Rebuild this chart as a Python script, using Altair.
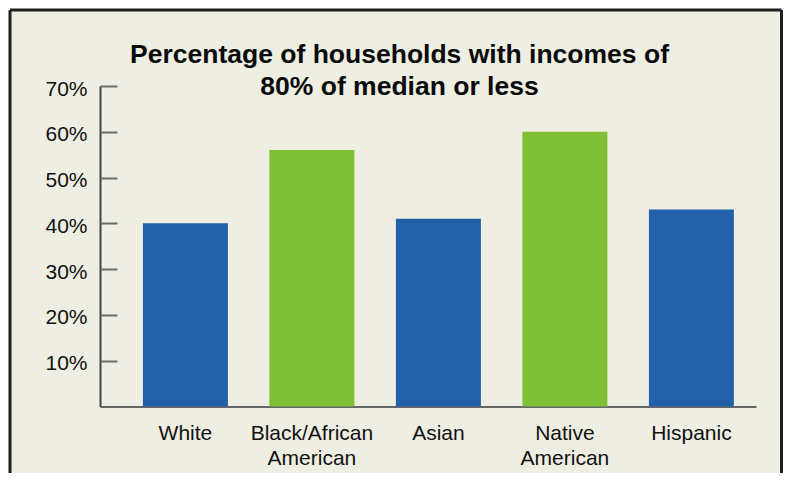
import altair as alt
import pandas as pd

# ---- data ----
categories = ["White", "Black/African American", "Asian", "Native American", "Hispanic"]
values = [40, 56, 41, 60, 43]
groups = ["blue", "green", "blue", "green", "blue"]
y_ticks = [10, 20, 30, 40, 50, 60, 70]
title_lines = ["Percentage of households with incomes of", "80% of median or less"]

df = pd.DataFrame({"category": categories, "value": values, "group": groups})
one = pd.DataFrame({"k": [0]})

# ---- layout (view = the framed panel) ----
W, H = 773, 463
X0, X1 = 90, 746        # plot area inside the panel
Y0, Y70 = 396.5, 76     # pixel rows of 0% and 70%
FONT = "Liberation Sans"
FRAME = "#1f1f1f"

x_enc = alt.X(
    "category:N", sort=categories, title=None,
    scale=alt.Scale(range=[X0, X1], paddingInner=0.328, paddingOuter=0.257, align=0.66),
    axis=alt.Axis(
        orient="bottom", offset=-(H - Y0), ticks=False, tickSize=0,
        domainColor="#666666", domainWidth=2,
        labelPadding=16, labelFontSize=21, labelFont=FONT, labelColor="#111111",
        labelLineHeight=25, labelAngle=0,
        labelExpr="lastindexof(datum.label, ' ') > 0 ? [substring(datum.label, 0, lastindexof(datum.label, ' ')), substring(datum.label, lastindexof(datum.label, ' ') + 1)] : datum.label",
    ),
)

y_scale = alt.Scale(domain=[0, 70], range=[Y0, Y70], nice=False, zero=True)

bars = alt.Chart(df).mark_bar().encode(
    x=x_enc,
    y=alt.Y("value:Q", scale=y_scale, title=None,
            axis=alt.Axis(orient="left", offset=-X0, values=y_ticks, ticks=False, tickSize=0,
                          grid=False, domainColor="#444444", domainWidth=2,
                          labelPadding=13, labelFontSize=21, labelFont=FONT, labelColor="#111111",
                          labelOffset=3, labelFlush=False,
                          labelExpr="datum.value + '%'")),
    color=alt.Color("group:N", legend=None,
                    scale=alt.Scale(domain=["blue", "green"], range=["#2360AA", "#7FBF36"])),
)

tick_layer = alt.Chart(df).mark_bar(opacity=0).encode(
    x=x_enc,
    y=alt.Y("value:Q", scale=y_scale, title=None,
            axis=alt.Axis(orient="right", offset=-(W - X0), values=y_ticks, labels=False,
                          domain=False, grid=False, ticks=True, tickSize=17,
                          tickColor="#6b6b6b", tickWidth=2)),
)

# panel frame (left, top, right sides; the bottom runs off the picture)
frame_left = alt.Chart(one).mark_rule(color=FRAME, strokeWidth=3).encode(
    x=alt.value(0), y=alt.value(0), y2=alt.value(H))
frame_top = alt.Chart(one).mark_rule(color=FRAME, strokeWidth=3).encode(
    x=alt.value(0), x2=alt.value(W - 1.5), y=alt.value(0))
frame_right = alt.Chart(one).mark_rule(color=FRAME, strokeWidth=3).encode(
    x=alt.value(W - 1.5), y=alt.value(0), y2=alt.value(H))

chart = alt.layer(bars, tick_layer, frame_left, frame_top, frame_right).resolve_axis(
    y="independent"
).properties(
    width=W, height=H,
    autosize=alt.AutoSizeParams(type="none"),
    padding={"left": 2, "top": 2, "right": 0, "bottom": 0},
    background="white",
    title=alt.TitleParams(
        text=title_lines, font=FONT, fontSize=26.5, fontWeight="bold", color="#0a0a0a",
        anchor="middle", frame="group", baseline="top", lineHeight=32, offset=-92, dx=3,
    ),
).configure_view(fill="#EFEEE3", stroke=None)

chart.save("out.html", embed_options={"renderer": "svg", "actions": False})
